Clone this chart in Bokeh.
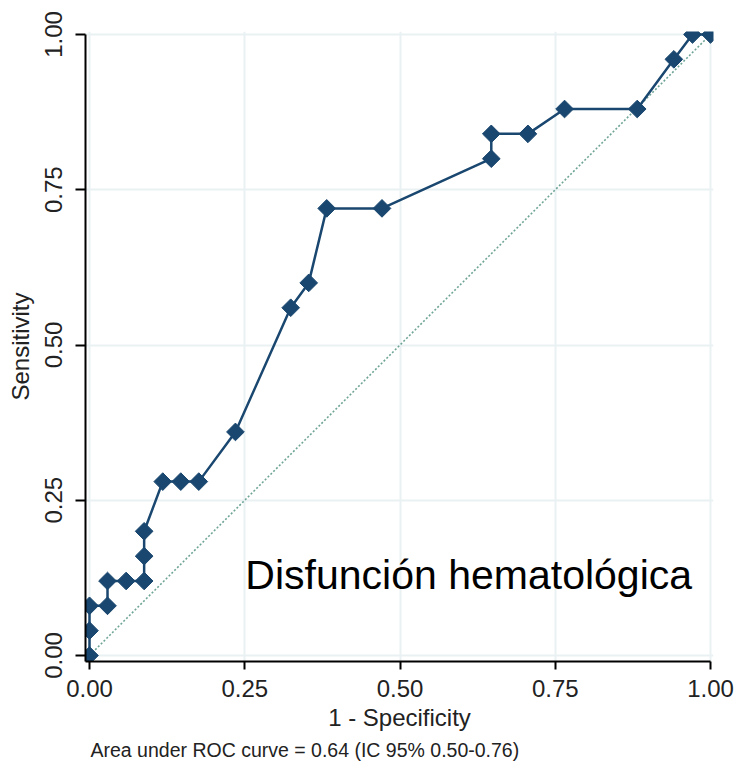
import numpy as np
from bokeh.plotting import figure
from bokeh.models import Range1d, FixedTicker, Label, ColumnDataSource, Title
from bokeh.embed import file_html
from bokeh.resources import INLINE

# ROC curve points (1 - specificity, sensitivity)
fpr = [0.0, 0.0, 0.0, 0.029, 0.029, 0.059, 0.088, 0.088, 0.088, 0.118, 0.147,
       0.176, 0.235, 0.324, 0.353, 0.382, 0.471, 0.647, 0.647, 0.706, 0.765,
       0.882, 0.941, 0.971, 1.0]
tpr = [0.0, 0.04, 0.08, 0.08, 0.12, 0.12, 0.12, 0.16, 0.20, 0.28, 0.28,
       0.28, 0.36, 0.56, 0.60, 0.72, 0.72, 0.80, 0.84, 0.84, 0.88,
       0.88, 0.96, 1.0, 1.0]
ref_x = [0.0, 1.0]
ref_y = [0.0, 1.0]
ticks = [0.0, 0.25, 0.5, 0.75, 1.0]
tick_labels = ["0.00", "0.25", "0.50", "0.75", "1.00"]
x_title = "1 - Specificity"
y_title = "Sensitivity"
panel_title = "Disfunción hematológica"
note = "Area under ROC curve = 0.64 (IC 95% 0.50-0.76)"

FONT = "Liberation Sans"
NAVY = "#1a476f"

p = figure(width=738, height=770, output_backend="svg", toolbar_location=None,
           x_range=Range1d(-4 / 621, 1 + 3 / 621),
           y_range=Range1d(-6 / 621, 1 + 3 / 621),
           min_border_left=85, min_border_right=25,
           min_border_top=31, min_border_bottom=109)
p.outline_line_color = None
p.background_fill_color = "white"
p.border_fill_color = "white"

# grids
for g in (p.xgrid, p.ygrid):
    g.ticker = FixedTicker(ticks=ticks)
    g.grid_line_color = "#e9f1f3"
    g.grid_line_width = 2

# axes
overrides = {t: l for t, l in zip(ticks, tick_labels)}
for ax in (p.xaxis, p.yaxis):
    ax.ticker = FixedTicker(ticks=ticks)
    ax.major_label_overrides = overrides
    ax.axis_line_color = "black"
    ax.axis_line_width = 2
    ax.major_tick_line_color = "black"
    ax.major_tick_line_width = 2
    ax.major_tick_in = 0
    ax.minor_tick_line_color = None
    ax.major_label_text_font = FONT
    ax.major_label_text_font_size = "24px"
    ax.major_label_text_color = "#222222"
    ax.axis_label_text_font = FONT
    ax.axis_label_text_font_size = "24px"
    ax.axis_label_text_font_style = "normal"
    ax.axis_label_text_color = "#222222"

p.xaxis.axis_label = x_title
p.yaxis.axis_label = y_title
p.xaxis.major_tick_out = 8
p.yaxis.major_tick_out = 10
p.xaxis.bounds = (-4 / 621, 1.0)
p.yaxis.bounds = (-6 / 621, 1.0)
p.xaxis.major_label_standoff = 10
p.yaxis.major_label_standoff = 14
p.xaxis.axis_label_standoff = 4
p.yaxis.axis_label_standoff = 8
p.yaxis.major_label_orientation = "vertical"

# reference line
p.line(ref_x, ref_y, line_color="#6fa597", line_width=1.6, line_dash="2 2")

# ROC curve
src = ColumnDataSource(dict(x=fpr, y=tpr))
p.line("x", "y", source=src, line_color=NAVY, line_width=2.5)
p.scatter("x", "y", source=src, marker="square", angle=np.pi / 4, size=12.5,
          fill_color=NAVY, line_color=NAVY)

p.add_layout(Label(x=0.251, y=0.129, text=panel_title, text_font=FONT,
                   text_font_size="41px", text_color="black",
                   text_baseline="alphabetic", text_align="left"))

p.add_layout(Title(text=note, align="left", offset=5, standoff=7,
                   text_font=FONT, text_font_size="19.5px",
                   text_font_style="normal", text_color="#222222"), "below")

open("out.html", "w").write(file_html(p, INLINE))
